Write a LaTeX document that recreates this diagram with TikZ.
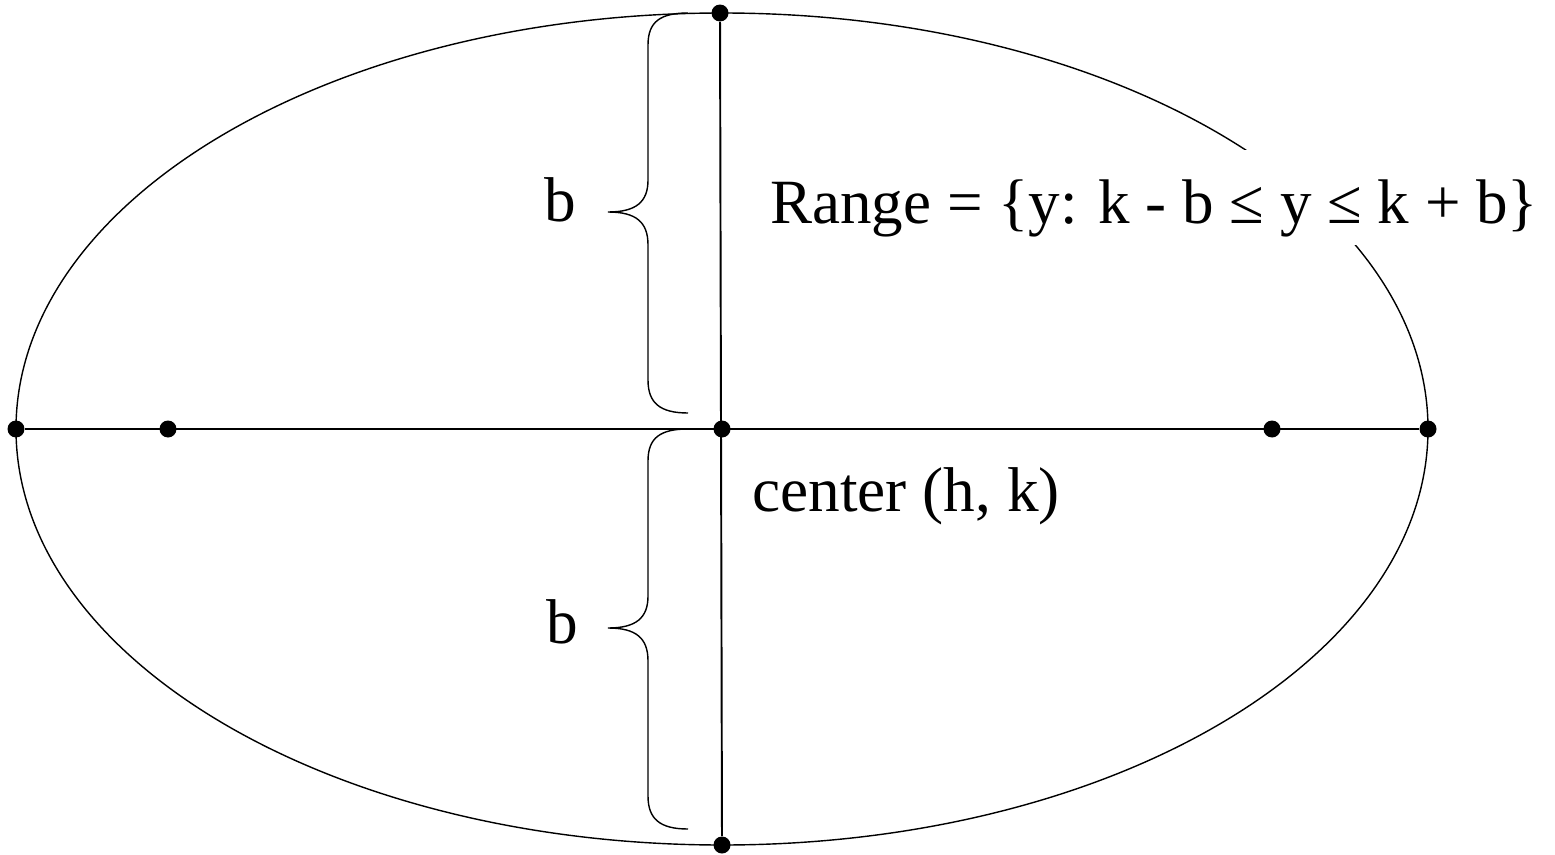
\documentclass[tikz,border=0pt]{standalone}
\usepackage{fontspec}
\setmainfont{Liberation Serif}
\usepackage{graphicx}
\usetikzlibrary{positioning}

\tikzset{
	dot/.style={circle, fill=black, inner sep=0pt, minimum size=0.34cm},
	axis/.style={line width=1.1pt},
	curve/.style={line width=0.8pt},
	lbl/.style={font=\fontsize{36}{42}\selectfont, inner sep=0pt},
	curlybrace/.pic={
		\draw[curve] (0,0) .. controls (-28,0) and (-40,9) .. (-40,32) -- (-40,167) .. controls (-40,189) and (-52,199) .. (-80,199) .. controls (-52,199) and (-40,209) .. (-40,232) -- (-40,367) .. controls (-40,390) and (-28,400) .. (0,400);
	},
}

\begin{document}
\begin{tikzpicture}[x=0.02cm, y=-0.02cm]
	\useasboundingbox (0,0) rectangle (1555,855);
	
	% --- THE ELLIPSE ---
	\draw[curve] (722,429) ellipse [x radius=706, y radius=416];
	
	% --- AXES AND THEIR POINTS ---
	\node[dot] (VertexL) at (16,429) {};
	\node[dot] (FocusL) at (168,429) {};
	\node[dot] (Center) at (722,429) {};
	\node[dot] (FocusR) at (1272,429) {};
	\node[dot] (VertexR) at (1428,429) {};
	\node[dot] (CoVertexT) at (720,13) {};
	\node[dot] (CoVertexB) at (722,845) {};
	
	\draw[axis] (VertexL) -- (VertexR);
	\draw[axis] (CoVertexT) -- (CoVertexB);
	
	% --- BRACES FOR b ---
	\pic at (688,13) {curlybrace};
	\pic at (688,429) {curlybrace};
	\node[lbl] (bTop) at (560,200) {b};
	\node[lbl] (bBottom) at (562,622) {b};
	
	% --- LABELS ---
	\node[lbl, anchor=base west] (CenterText) at (752,511) {center (h, k)};
	\node[fill=white, anchor=base west, inner xsep=0pt, inner ysep=0pt, text height=1.46cm, text depth=0.44cm] (RangeText) at (770,223) {\resizebox{15.36cm}{!}{Range = \{y: k - b ≤ y ≤ k + b\}}};
	
\end{tikzpicture}
\end{document}
